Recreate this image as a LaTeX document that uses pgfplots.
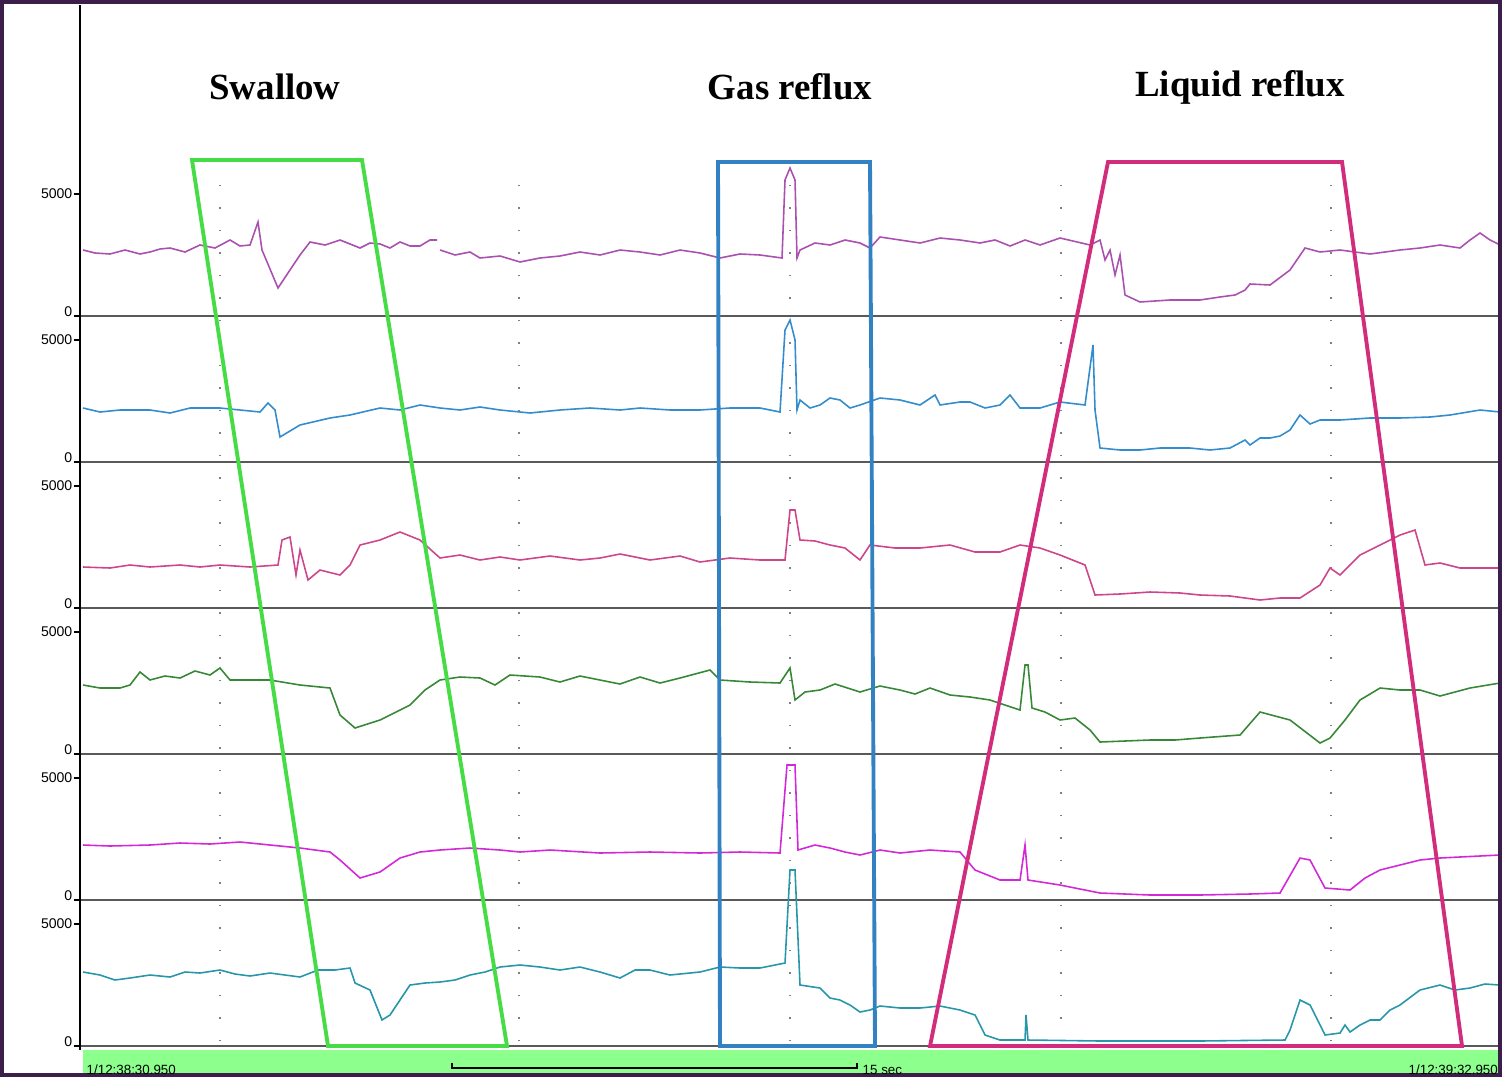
\documentclass[border=0pt]{standalone}
\usepackage{pgfplots}
\pgfplotsset{compat=1.18}
\usepackage{fontspec}
\setmainfont{Liberation Serif}
\newfontfamily\lsans{Liberation Sans}
\definecolor{tr1}{RGB}{170,80,175}
\definecolor{tr2}{RGB}{50,140,205}
\definecolor{tr3}{RGB}{205,70,140}
\definecolor{tr4}{RGB}{55,135,55}
\definecolor{tr5}{RGB}{210,40,215}
\definecolor{tr6}{RGB}{40,150,170}
\definecolor{bxg}{RGB}{70,220,70}
\definecolor{bxb}{RGB}{50,130,195}
\definecolor{bxp}{RGB}{210,45,125}
\definecolor{frame}{RGB}{60,30,75}
\begin{document}
\begin{tikzpicture}
\begin{axis}[scale only axis, width=15.02cm, height=10.77cm,
 xmin=0,xmax=1502,ymin=0,ymax=1077, y dir=reverse, axis lines=none,
 clip=true]
% bottom bar
\addplot[draw=none,fill=green!45!white] coordinates {(83,1050)(1502,1050)(1502,1077)(83,1077)} -- cycle;
\addplot[black,thin] coordinates {(452,1063)(452,1068)(857,1068)(857,1063)};
% grid
\foreach \bl in {316,462,608,754,900,1046}{
 \edef\tmp{\noexpand\addplot[gray!70!black,line width=0.5pt] coordinates {(80,\bl)(1502,\bl)};
 \noexpand\addplot[black,line width=0.4pt] coordinates {(74,\bl)(80,\bl)};}\tmp
}
\foreach \ya in {194,340,486,632,778,924}{
 \edef\tmp{\noexpand\addplot[black,line width=0.4pt] coordinates {(74,\ya)(80,\ya)};}\tmp
}
\addplot[black,line width=0.6pt] coordinates {(80,5)(80,1050)};
\foreach \vx in {220,519,790,1061,1331}{
 \edef\tmp{\noexpand\addplot[gray,line width=0.6pt,dash pattern=on 0.4pt off 6pt] coordinates {(\vx,185)(\vx,1040)};}\tmp
}
% traces
\pgfplotsset{every axis plot/.append style={line width=0.45pt}}
\addplot[tr1] coordinates {(83,250)(95,253)(110,254)(125,250)(140,254)(150,252)(160,249)(170,248)(185,252)(200,245)(215,248)(230,240)(240,246)(250,245)(258,222)(262,250)(278,288)(290,270)(300,255)(310,242)(325,245)(340,240)(350,244)(360,248)(370,243)(380,244)(390,248)(400,242)(410,246)(420,246)(430,240)(437,240)};
\addplot[tr1] coordinates {(440,250)(455,255)(470,252)(480,258)(500,256)(520,262)(540,258)(560,256)(580,252)(600,255)(620,250)(640,252)(660,255)(680,250)(700,253)(720,258)(740,254)(760,255)(782,258)(785,180)(790,168)(795,180)(797,258)(800,250)(815,243)(830,245)(845,240)(860,243)(870,248)(880,237)(900,240)(920,243)(940,238)(960,240)(980,243)(995,240)(1010,246)(1025,240)(1040,245)(1060,238)(1090,245)(1100,240)(1105,260)(1110,250)(1115,275)(1120,255)(1125,295)(1140,302)(1170,300)(1200,300)(1220,297)(1235,295)(1245,290)(1250,284)(1270,285)(1290,270)(1305,248)(1320,252)(1340,250)(1370,254)(1400,250)(1420,248)(1440,245)(1460,248)(1470,240)(1480,233)(1490,240)(1500,245)};
\addplot[tr2] coordinates {(83,408)(100,412)(120,410)(150,410)(170,413)(190,408)(220,408)(240,410)(260,412)(268,403)(275,410)(280,437)(300,425)(330,418)(350,415)(380,408)(400,410)(420,405)(440,408)(460,410)(480,407)(500,410)(530,413)(560,410)(590,408)(620,410)(640,408)(670,410)(700,410)(730,408)(760,408)(780,412)(785,330)(790,320)(795,340)(797,410)(800,400)(810,408)(820,405)(830,398)(840,400)(850,408)(860,405)(880,398)(900,400)(920,405)(935,395)(940,405)(960,402)(970,402)(985,408)(1000,405)(1010,395)(1020,408)(1040,408)(1060,402)(1085,405)(1093,345)(1095,410)(1100,448)(1120,450)(1140,450)(1160,448)(1190,448)(1210,450)(1230,448)(1245,440)(1250,445)(1260,438)(1270,438)(1280,436)(1290,430)(1300,415)(1310,424)(1320,420)(1340,420)(1370,418)(1400,418)(1430,417)(1450,415)(1480,410)(1500,412)};
\addplot[tr3] coordinates {(83,567)(110,568)(130,565)(150,567)(180,565)(200,567)(220,565)(250,567)(278,565)(282,540)(290,537)(296,575)(300,550)(308,580)(320,570)(340,575)(350,565)(360,545)(380,540)(400,532)(420,540)(440,558)(460,555)(480,560)(500,557)(520,560)(550,556)(580,560)(600,558)(620,554)(650,560)(680,556)(700,562)(730,558)(760,560)(785,560)(790,510)(795,510)(800,540)(815,541)(830,545)(845,548)(860,560)(870,545)(895,548)(920,548)(950,545)(975,552)(1000,552)(1020,545)(1040,548)(1060,555)(1085,565)(1095,595)(1120,594)(1150,592)(1180,593)(1200,595)(1230,596)(1260,600)(1280,598)(1300,598)(1320,585)(1330,568)(1340,575)(1360,555)(1380,545)(1400,535)(1415,530)(1425,565)(1440,563)(1460,568)(1500,568)};
\addplot[tr4] coordinates {(83,685)(100,688)(120,688)(130,685)(140,672)(150,680)(165,676)(180,678)(195,671)(210,675)(220,668)(230,680)(250,680)(270,680)(300,685)(330,688)(340,715)(355,728)(380,720)(410,705)(425,690)(440,680)(460,677)(480,678)(495,685)(510,675)(540,677)(560,682)(580,676)(600,680)(620,684)(640,677)(660,683)(680,678)(710,670)(720,680)(750,682)(780,683)(790,668)(795,700)(805,692)(820,690)(835,684)(860,692)(880,686)(900,690)(915,694)(930,688)(950,695)(970,697)(990,700)(1020,710)(1025,665)(1028,665)(1032,708)(1045,712)(1060,720)(1075,718)(1090,730)(1100,742)(1150,740)(1175,740)(1200,738)(1240,735)(1260,712)(1290,720)(1320,743)(1330,738)(1345,720)(1360,700)(1380,688)(1400,690)(1420,690)(1440,696)(1470,688)(1500,683)};
\addplot[tr5] coordinates {(83,845)(110,846)(150,845)(180,843)(210,844)(240,842)(270,845)(300,848)(330,852)(340,860)(360,878)(380,872)(400,858)(420,852)(440,850)(470,848)(500,850)(520,852)(550,850)(600,853)(650,852)(700,853)(740,852)(780,853)(787,765)(795,765)(798,850)(815,845)(830,848)(845,852)(860,855)(880,850)(900,853)(930,850)(960,852)(975,870)(1000,880)(1020,880)(1025,845)(1028,880)(1060,885)(1080,889)(1100,893)(1150,895)(1200,895)(1250,894)(1280,893)(1300,858)(1310,860)(1325,888)(1350,890)(1365,878)(1380,870)(1400,865)(1420,860)(1440,858)(1460,857)(1500,855)};
\addplot[tr6] coordinates {(83,972)(100,975)(115,980)(130,978)(150,975)(170,977)(185,972)(200,973)(220,970)(235,974)(250,976)(270,973)(300,977)(318,970)(335,970)(350,968)(355,983)(370,990)(382,1020)(390,1015)(410,985)(425,983)(440,982)(455,980)(470,975)(485,972)(500,967)(520,965)(540,967)(560,970)(580,967)(600,972)(620,978)(635,970)(650,970)(670,975)(700,972)(720,967)(740,968)(760,968)(775,965)(785,963)(790,870)(795,870)(800,985)(820,988)(830,998)(840,1000)(850,1005)(860,1012)(870,1010)(880,1006)(900,1008)(920,1008)(940,1006)(960,1010)(975,1015)(985,1035)(1000,1040)(1025,1040)(1026,1015)(1028,1040)(1100,1041)(1200,1041)(1285,1040)(1290,1030)(1300,1000)(1310,1005)(1325,1035)(1340,1033)(1345,1025)(1350,1032)(1360,1025)(1370,1020)(1380,1020)(1390,1010)(1400,1005)(1420,990)(1440,985)(1455,990)(1470,988)(1485,984)(1500,985)};
% boxes
\addplot[bxg,line width=1.1pt] coordinates {(192,160)(362,160)(507,1046)(328,1046)} -- cycle;
\addplot[bxb,line width=1.1pt] coordinates {(718,162)(870,162)(875,1046)(720,1046)} -- cycle;
\addplot[bxp,line width=1.1pt] coordinates {(1108,162)(1342,162)(1462,1046)(930,1046)} -- cycle;
% frame
\addplot[frame,line width=1.2pt] coordinates {(2,2)(1500,2)(1500,1075)(2,1075)} -- cycle;
% labels
\node[font=\fontsize{10.5}{12}\selectfont\bfseries] at (axis cs:275,87) {Swallow};
\node[font=\fontsize{10.5}{12}\selectfont\bfseries] at (axis cs:790,87) {Gas reflux};
\node[font=\fontsize{10.5}{12}\selectfont\bfseries] at (axis cs:1240,87) {Liquid reflux};
\node[font=\lsans\fontsize{4}{4}\selectfont,anchor=east,inner sep=0pt] at (axis cs:73,194) {5000};
\node[font=\lsans\fontsize{4}{4}\selectfont,anchor=east,inner sep=0pt] at (axis cs:73,340) {5000};
\node[font=\lsans\fontsize{4}{4}\selectfont,anchor=east,inner sep=0pt] at (axis cs:73,486) {5000};
\node[font=\lsans\fontsize{4}{4}\selectfont,anchor=east,inner sep=0pt] at (axis cs:73,632) {5000};
\node[font=\lsans\fontsize{4}{4}\selectfont,anchor=east,inner sep=0pt] at (axis cs:73,778) {5000};
\node[font=\lsans\fontsize{4}{4}\selectfont,anchor=east,inner sep=0pt] at (axis cs:73,924) {5000};
\node[font=\lsans\fontsize{4}{4}\selectfont,anchor=east,inner sep=0pt] at (axis cs:73,312) {0};
\node[font=\lsans\fontsize{4}{4}\selectfont,anchor=east,inner sep=0pt] at (axis cs:73,458) {0};
\node[font=\lsans\fontsize{4}{4}\selectfont,anchor=east,inner sep=0pt] at (axis cs:73,604) {0};
\node[font=\lsans\fontsize{4}{4}\selectfont,anchor=east,inner sep=0pt] at (axis cs:73,750) {0};
\node[font=\lsans\fontsize{4}{4}\selectfont,anchor=east,inner sep=0pt] at (axis cs:73,896) {0};
\node[font=\lsans\fontsize{4}{4}\selectfont,anchor=east,inner sep=0pt] at (axis cs:73,1042) {0};
\node[font=\lsans\fontsize{3.8}{4}\selectfont,anchor=west,inner sep=0pt] at (axis cs:86,1070) {1/12:38:30.950};
\node[font=\lsans\fontsize{3.8}{4}\selectfont,anchor=west,inner sep=0pt] at (axis cs:862,1070) {15 sec};
\node[font=\lsans\fontsize{3.8}{4}\selectfont,anchor=west,inner sep=0pt] at (axis cs:1408,1070) {1/12:39:32.950};
\end{axis}
\end{tikzpicture}
\end{document}
